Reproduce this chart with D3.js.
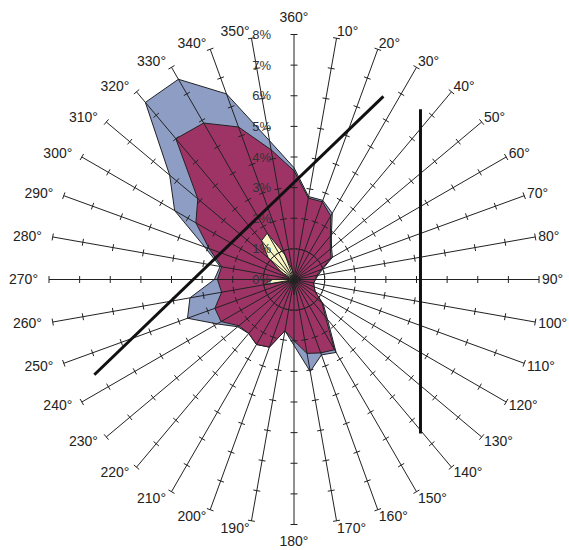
<!DOCTYPE html>
<html>
<head>
<meta charset="utf-8">
<script src="https://cdn.jsdelivr.net/npm/d3@7"></script>
<style>
  body { margin: 0; background: #fff; }
  svg { display: block; font-family: "Liberation Sans", Arial, sans-serif; }
</style>
</head>
<body>
<svg width="569" height="550"></svg>
<script>
// directions every 10 degrees, clockwise from north
const directions = d3.range(0, 360, 10);
const percentTicks = [0, 1, 2, 3, 4, 5, 6, 7, 8];

// outer series (blue)
const seriesOuter = [3.65, 2.75, 2.75, 2.5, 1.9, 1.6, 1.45, 1.0, 0.8, 0.7, 0.65, 0.7,
                     0.8, 1.25, 1.7, 2.75, 2.62, 3.05, 2.15, 1.7, 2.35, 2.45, 2.3, 2.4,
                     2.9, 3.7, 3.45, 2.6, 2.45, 3.1, 4.5, 5.3, 7.55, 7.55, 6.45, 4.6];
// middle series (crimson)
const seriesMiddle = [3.55, 2.7, 2.7, 2.4, 1.85, 1.55, 1.4, 0.95, 0.75, 0.7, 0.65, 0.7,
                      0.8, 1.2, 1.6, 2.65, 2.55, 2.45, 2.0, 1.7, 2.35, 2.45, 2.3, 2.35,
                      2.75, 2.75, 2.4, 2.5, 2.4, 2.95, 3.7, 4.1, 6.0, 5.9, 5.3, 4.3];
// inner series (pale yellow)
const seriesInner = [0.1, 0.1, 0.1, 0.1, 0.1, 0.1, 0.1, 0.1, 0.1, 0.1, 0.1, 0.1,
                     0.1, 0.1, 0.1, 0.1, 0.1, 0.05, 0.5, 0.05, 0.1, 0.1, 0.1, 0.1,
                     0.1, 0.15, 1.0, 0.7, 0.15, 0.2, 0.45, 1.1, 1.65, 1.75, 0.85, 0.3];

// annotation lines, in percent units (x right, y up)
const lineA = [[-6.52, -3.11], [2.92, 5.98]];
const lineB = [[4.13, 5.56], [4.13, -5.03]];

const svg = d3.select('svg');
const cx = 294, cy = 279.5;
const R = 245;
const rScale = d3.scaleLinear().domain([0, 8]).range([0, R]);
const xScale = d3.scaleLinear().domain([-8, 8]).range([cx - R, cx + R]);
const yScale = d3.scaleLinear().domain([-8, 8]).range([cy + R, cy - R]);
const rad = d => d * Math.PI / 180;

const g = svg.append('g').attr('transform', `translate(${cx},${cy})`);

const radial = d3.lineRadial()
    .angle((d, i) => rad(directions[i]))
    .radius(d => rScale(d))
    .curve(d3.curveLinearClosed);

[[seriesOuter, '#8e9dc4'], [seriesMiddle, '#9e3466'], [seriesInner, '#f8f5c6']]
  .forEach(([s, c]) => {
    g.append('path')
      .attr('d', radial(s))
      .attr('fill', c)
      .attr('stroke', '#222')
      .attr('stroke-width', 1)
      .attr('stroke-linejoin', 'round');
  });

// spokes with ticks
const spokes = g.append('g').attr('stroke', '#222').attr('stroke-width', 1);
directions.forEach(a => {
  const [x2, y2] = d3.pointRadial(rad(a), R);
  spokes.append('line').attr('x1', 0).attr('y1', 0).attr('x2', x2).attr('y2', y2);
  const px = Math.cos(rad(a)), py = Math.sin(rad(a)); // perpendicular
  percentTicks.slice(1).forEach(p => {
    const [tx, ty] = d3.pointRadial(rad(a), rScale(p));
    spokes.append('line')
      .attr('x1', tx - px * 3.5).attr('y1', ty - py * 3.5)
      .attr('x2', tx + px * 3.5).attr('y2', ty + py * 3.5);
  });
});

// percent labels
g.selectAll('text.pct').data(percentTicks).enter().append('text')
  .attr('class', 'pct')
  .attr('x', -23)
  .attr('y', d => -rScale(d))
  .attr('dy', '0.35em')
  .attr('text-anchor', 'end')
  .attr('fill', '#333')
  .attr('font-size', 13)
  .text(d => d + '%');

// direction labels
g.selectAll('text.dir').data(directions).enter().append('text')
  .attr('class', 'dir')
  .each(function (a) {
    const s = Math.sin(rad(a)), c = Math.cos(rad(a));
    const [ex, ey] = d3.pointRadial(rad(a), R);
    let x, y, anchor;
    if (Math.abs(s) < 0.01) {
      x = ex; y = ey - c * 17; anchor = 'middle';
    } else if (s > 0) {
      x = ex + s * 3; y = ey - c * 7; anchor = 'start';
    } else {
      x = ex + s * 11; y = ey - c * 7; anchor = 'end';
    }
    d3.select(this).attr('x', x).attr('y', y).attr('text-anchor', anchor);
  })
  .attr('dy', '0.35em')
  .attr('fill', '#222')
  .attr('font-size', 14)
  .text(a => (a === 0 ? 360 : a) + '°');

// annotation lines
[lineA, lineB].forEach(l => {
  svg.append('line')
    .attr('x1', xScale(l[0][0])).attr('y1', yScale(l[0][1]))
    .attr('x2', xScale(l[1][0])).attr('y2', yScale(l[1][1]))
    .attr('stroke', '#111')
    .attr('stroke-width', 3);
});
</script>
</body>
</html>
